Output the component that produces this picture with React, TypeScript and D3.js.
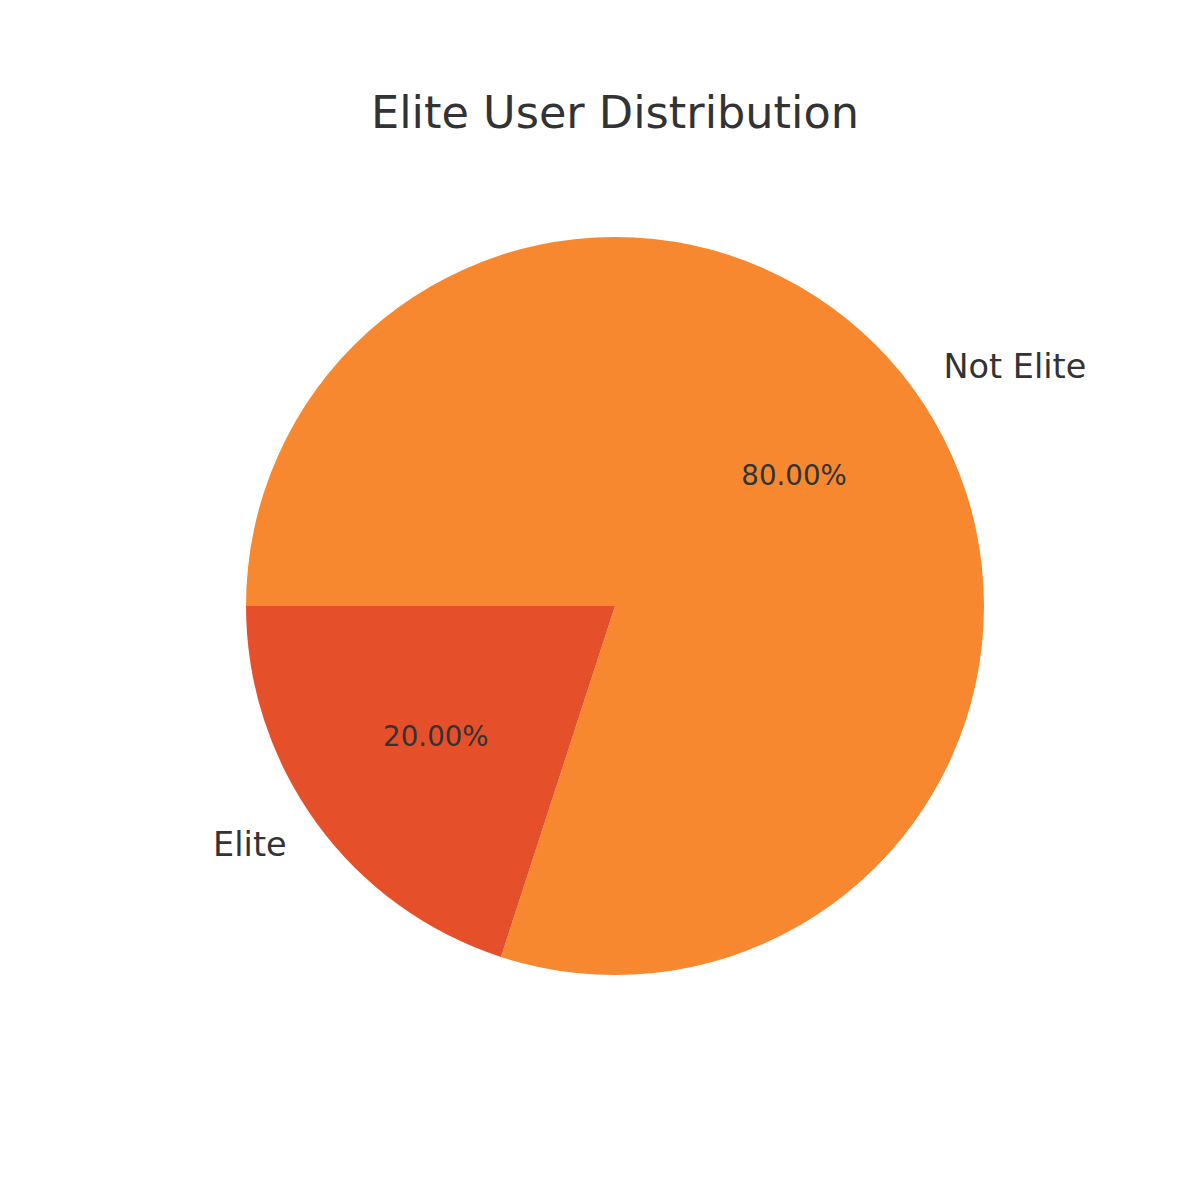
import React, { useEffect } from "react";
import * as d3 from "d3";

const categories = ["Not Elite", "Elite"];
const values = [80, 20];
const colors = ["#F7882F", "#E5502B"];
const title = "Elite User Distribution";

export default function App() {
  useEffect(() => {
    document.body.style.margin = "0";
  }, []);
  const W = 1200, H = 1200;
  const cx = 615, cy = 606, r = 369;
  const pie = d3.pie<number>().sort(null).startAngle(-Math.PI / 2).endAngle(1.5 * Math.PI);
  const arcs = pie(values);
  const arc = d3.arc<d3.PieArcDatum<number>>().innerRadius(0).outerRadius(r);
  const total = d3.sum(values);
  const font = "DejaVu Sans, sans-serif";
  return (
    <svg width={W} height={H} style={{ display: "block", background: "#fff" }}>
      <text x={615} y={128} textAnchor="middle" fontFamily={font} fontSize={44.6} fill="#333333">
        {title}
      </text>
      <g transform={`translate(${cx},${cy})`}>
        {arcs.map((a, i) => (
          <path key={i} d={arc(a) as string} fill={colors[i]} />
        ))}
        {arcs.map((a, i) => {
          const mid = (a.startAngle + a.endAngle) / 2;
          const lx = Math.sin(mid) * r * 1.1;
          const ly = -Math.cos(mid) * r * 1.1;
          const px = Math.sin(mid) * r * 0.6;
          const py = -Math.cos(mid) * r * 0.6;
          return (
            <g key={"l" + i}>
              <text x={lx} y={ly} dy="0.33em" textAnchor={lx > 0 ? "start" : "end"} fontFamily={font} fontSize={33.5} fill="#333333">
                {categories[i]}
              </text>
              <text x={px} y={py} dy="0.34em" textAnchor="middle" fontFamily={font} fontSize={27.7} fill="#333333">
                {((values[i] / total) * 100).toFixed(2) + "%"}
              </text>
            </g>
          );
        })}
      </g>
    </svg>
  );
}
